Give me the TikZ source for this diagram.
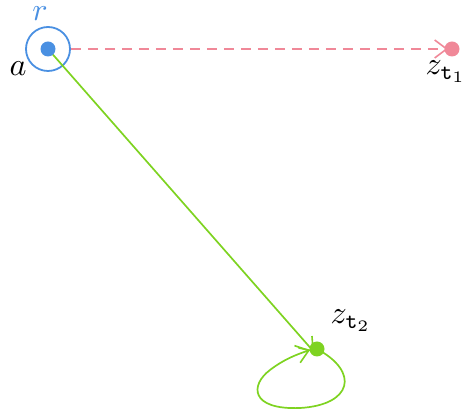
\documentclass[tikz,border=0pt]{standalone}
\usetikzlibrary{arrows.meta}
\definecolor{cblue}{HTML}{4A90E2}
\definecolor{cpink}{HTML}{F08898}
\definecolor{cgreen}{HTML}{7ED321}
\begin{document}
\begin{tikzpicture}[x=1pt,y=-1pt,
  lbl/.style={scale=3.2, transform shape, inner sep=0pt},
  barb/.style={-{Straight Barb[length=12pt,width=18pt,line width=1.6pt]}}]
\useasboundingbox (0,0) rectangle (464,419);
\coordinate (A) at (48,49);
\coordinate (Z1) at (452,49);
\coordinate (Z2) at (317,349);
% radius circle
\node[circle, draw=cblue, line width=1.8pt, minimum size=44pt, inner sep=0pt] (rc) at (A) {};
% dashed line
\draw[cpink, line width=1.6pt, dash pattern=on 10pt off 7pt, barb] (rc.east) -- ([xshift=-4pt]Z1);
% green line
\draw[cgreen, line width=1.7pt, barb] (A) -- ([xshift=-3pt,yshift=-3pt]Z2);
% loop
\draw[cgreen, line width=1.7pt, barb] (Z2) .. controls (360,372) and (352,405) .. (300,408)
   .. controls (250,410) and (250,385) .. (270,370) .. controls (283,360) and (295,355) .. (310,350);
% dots
\node[circle, fill=cblue, minimum size=15pt, inner sep=0pt] (a) at (A) {};
\node[circle, fill=cpink, minimum size=15pt, inner sep=0pt] (z1) at (Z1) {};
\node[circle, fill=cgreen, minimum size=15pt, inner sep=0pt] (z2) at (Z2) {};
% labels
\node[lbl, text=cblue, anchor=base] (rl) at (40,21) {$r$};
\node[lbl, anchor=base west] (al) at (9,76) {$a$};
\node[lbl, anchor=base west] (z1l) at (425,75) {$z_{\mathtt{t}_1}$};
\node[lbl, anchor=base west] (z2l) at (330,324) {$z_{\mathtt{t}_2}$};
\end{tikzpicture}
\end{document}
